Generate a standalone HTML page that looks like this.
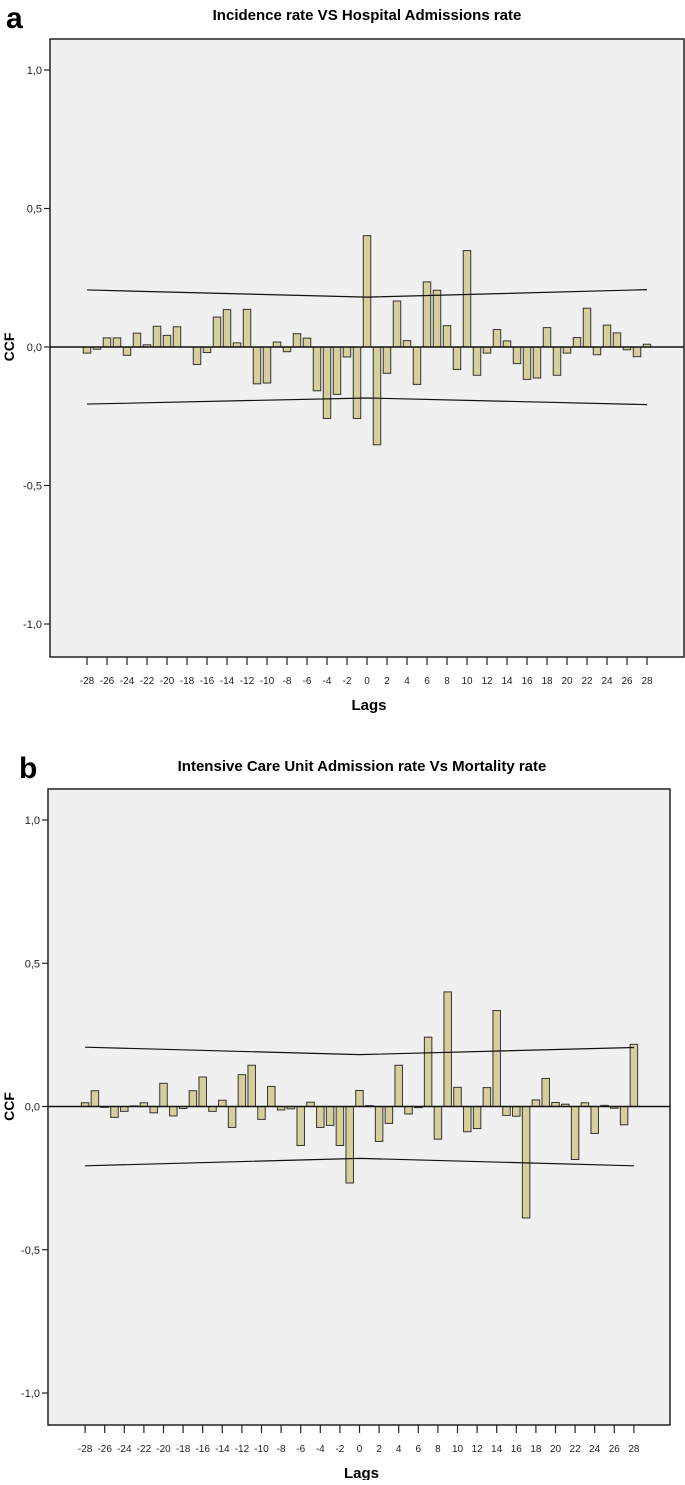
<!DOCTYPE html>
<html><head><meta charset="utf-8"><style>
body{margin:0;background:#fff;width:685px;height:1480px;overflow:hidden;font-family:"Liberation Sans",sans-serif}
</style></head><body>
<svg id="svg" width="685" height="1480" xmlns="http://www.w3.org/2000/svg" style="font-family:'Liberation Sans',sans-serif">
<text x="6" y="28" font-size="30" font-weight="bold">a</text>
<text x="367" y="20" font-size="15" font-weight="bold" text-anchor="middle">Incidence rate VS Hospital Admissions rate</text>
<text x="19" y="778" font-size="30" font-weight="bold">b</text>
<text x="362" y="771" font-size="15" font-weight="bold" text-anchor="middle">Intensive Care Unit Admission rate Vs Mortality rate</text>
</svg>
<script>
const lags=[];for(let k=-28;k<=28;k++)lags.push(k);
const ccfA=[-0.022,-0.008,0.033,0.033,-0.03,0.05,0.008,0.075,0.042,0.073,0,-0.063,-0.02,0.108,0.135,0.015,0.136,-0.133,-0.13,0.018,-0.017,0.048,0.032,-0.158,-0.258,-0.171,-0.036,-0.258,
0.402,-0.353,-0.095,0.166,0.023,-0.135,0.235,0.205,0.077,-0.081,0.348,-0.102,-0.022,0.063,0.022,-0.06,-0.117,-0.112,0.07,-0.102,-0.022,0.034,0.14,-0.028,0.079,0.051,-0.01,-0.035,0.01];
const ccfB=[0.013,0.055,-0.003,-0.038,-0.017,0.002,0.013,-0.022,0.081,-0.033,-0.007,0.055,0.103,-0.017,0.022,-0.073,0.111,0.144,-0.045,0.07,-0.012,-0.008,-0.136,0.015,-0.073,-0.066,-0.136,-0.267,
0.056,0.003,-0.122,-0.059,0.144,-0.026,-0.004,0.242,-0.114,0.4,0.067,-0.088,-0.077,0.066,0.335,-0.031,-0.034,-0.389,0.023,0.098,0.014,0.008,-0.185,0.013,-0.094,0.004,-0.006,-0.064,0.217];
const confLags=[-28,0,28];
const confUpperA=[0.206,0.18,0.207];
const confLowerA=[-0.206,-0.184,-0.208];
const confUpperB=[0.207,0.181,0.206];
const confLowerB=[-0.207,-0.181,-0.207];
const yTicks=[1.0,0.5,0.0,-0.5,-1.0];
const yTickLabels=["1,0","0,5","0,0","-0,5","-1,0"];
const xTicks=[];for(let k=-28;k<=28;k+=2)xTicks.push(k);

const svg=document.getElementById('svg');
const NS='http://www.w3.org/2000/svg';
function mk(tag,attrs){const e=document.createElementNS(NS,tag);for(const k in attrs)e.setAttribute(k,attrs[k]);svg.appendChild(e);return e;}

function chart(id,vals,up,lo,fr,x0,dx,y0,sy){
  const X=l=>x0+l*dx, Y=v=>y0-v*sy;
  const r=mk('rect',{x:fr.l,y:fr.t,width:fr.r-fr.l,height:fr.b-fr.t,fill:'#f0f0f0',stroke:'#222','stroke-width':1.5});
  
  
  yTicks.forEach((v,i)=>{
    const t=mk('line',{x1:fr.l-6,x2:fr.l,y1:Y(v),y2:Y(v),stroke:'#222','stroke-width':1.2});
    
    
    const tx=mk('text',{x:fr.l-8,y:Y(v)+4,'font-size':11,'text-anchor':'end',fill:'#222'});
    tx.textContent=yTickLabels[i];
    
    
  });
  xTicks.forEach(k=>{
    const t=mk('line',{x1:X(k),x2:X(k),y1:fr.b,y2:fr.b+8,stroke:'#222','stroke-width':1.2});
    
    
    const tx=mk('text',{x:X(k),y:fr.b+27,'font-size':10,'text-anchor':'middle',fill:'#222'});
    tx.textContent=String(k);
    
    
  });
  const bw=7.5;
  lags.forEach((k,i)=>{
    const v=vals[i]; if(Math.abs(v)<0.0005)return;
    const b=mk('rect',{x:X(k)-bw/2,y:Math.min(Y(v),Y(0)),width:bw,height:Math.abs(Y(v)-Y(0)),fill:'#d6cf9b',stroke:'#333','stroke-width':1});
    
    
  });
  const z=mk('line',{x1:fr.l,x2:fr.r,y1:Y(0),y2:Y(0),stroke:'#111','stroke-width':1.5});
  
  
  [[up,'upper'],[lo,'lower']].forEach(([arr,n])=>{
    const p=mk('polyline',{points:confLags.map((l,i)=>X(l)+','+Y(arr[i])).join(' '),fill:'none',stroke:'#111','stroke-width':1.2});
    
    
  });
  const lx=mk('text',{x:X(0)+2,y:fr.b+53,'font-size':15,'font-weight':'bold','text-anchor':'middle'});
  lx.textContent='Lags';
  
  
  const ly=mk('text',{x:0,y:0,'font-size':14,'font-weight':'bold','text-anchor':'middle',transform:'translate(14,'+Y(0)+') rotate(-90)'});
  ly.textContent='CCF';
  
  
}
chart('a',ccfA,confUpperA,confLowerA,{l:50,r:684,t:39,b:657},367,10,347,277);
chart('b',ccfB,confUpperB,confLowerB,{l:48,r:670,t:789,b:1425},359.5,9.8,1106.5,286.5);
</script>
</body></html>
